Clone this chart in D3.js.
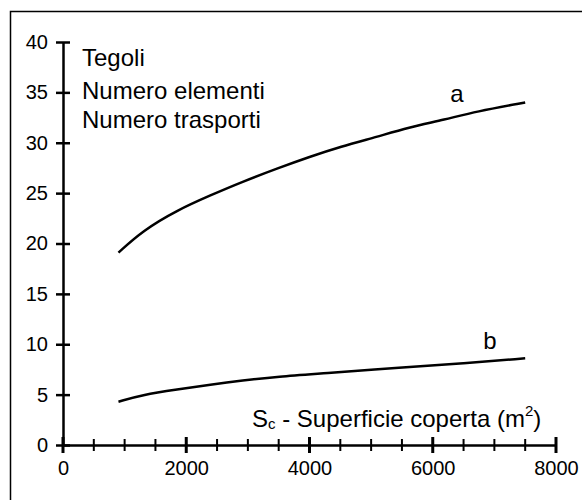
<!DOCTYPE html>
<html>
<head>
<meta charset="utf-8">
<script src="https://cdn.jsdelivr.net/npm/d3@7"></script>
<style>
body { margin: 0; background: #fff; }
svg text { font-family: Arial, "Liberation Sans", sans-serif; fill: #000; }
</style>
</head>
<body>
<div class="main"></div>
<script>
const w = 582, h = 500;

// data
const xA = [900, 1300, 1850, 2400, 2900, 3500, 4000, 4500, 5100, 5600, 6200, 6700, 7500],
yA = [19.1, 21.3, 23.3, 24.8, 26.1, 27.5, 28.6, 29.6, 30.6, 31.5, 32.3, 33.1, 34.0];
const xB = [900, 1300, 1850, 2400, 2900, 3500, 4200, 5500, 6500, 7500],
yB = [4.3, 5.0, 5.5, 6.0, 6.4, 6.8, 7.1, 7.7, 8.1, 8.6];
const xTicks = [0, 2000, 4000, 6000, 8000],
yTicks = [0, 5, 10, 15, 20, 25, 30, 35, 40];
const textLines = ['Tegoli', 'Numero elementi', 'Numero trasporti'];

const svg = d3.select('.main')
            .append('svg')
            .attr('width', w)
            .attr('height', h)

// frame (right and bottom sides fall outside the picture)
svg.append('rect')
    .attr('x', 10.5)
    .attr('y', 11.5)
    .attr('width', 700)
    .attr('height', 700)
    .attr('fill', 'none')
    .attr('stroke', '#000')
    .attr('stroke-width', 1.5)

const x = d3.scaleLinear().domain([0, 8000]).range([63, 556]),
y = d3.scaleLinear().domain([0, 40]).range([445, 42]);

// y axis
const yAxis = svg.append('g')
            .attr('transform', `translate(${x(0)},0)`)
            .call(d3.axisLeft(y).tickValues(yTicks).tickSize(0).tickPadding(15))
yAxis.select('.domain').attr('stroke-width', 2.5)
yAxis.selectAll('text').attr('font-size', 20).attr('font-family', 'Arial, "Liberation Sans", sans-serif')
yAxis.selectAll('.tick')
    .append('line')
    .attr('x1', -7).attr('x2', 7)
    .attr('stroke', '#000').attr('stroke-width', 2.5)

// x axis, minor ticks every 500
const xAxis = svg.append('g')
            .attr('transform', `translate(0,${y(0)})`)
            .call(d3.axisBottom(x).tickValues(xTicks).tickFormat(d3.format('d')).tickSize(0).tickPadding(16))
xAxis.select('.domain').attr('stroke-width', 2.5)
xAxis.selectAll('text').attr('font-size', 20).attr('font-family', 'Arial, "Liberation Sans", sans-serif')
xAxis.selectAll('.minor')
    .data(d3.range(0, 8001, 500))
    .enter()
    .append('line')
    .attr('x1', d => x(d)).attr('x2', d => x(d))
    .attr('y1', d => d % 2000 == 0 ? -8 : -6)
    .attr('y2', d => d % 2000 == 0 ? 8 : 6)
    .attr('stroke', '#000')
    .attr('stroke-width', d => d % 2000 == 0 ? 3 : 2)

const line = d3.line()
            .x(d => x(d[0]))
            .y(d => y(d[1]))
            .curve(d3.curveBasis)

svg.append('path')
    .datum(d3.zip(xA, yA))
    .attr('d', line)
    .attr('fill', 'none')
    .attr('stroke', '#000')
    .attr('stroke-width', 2.5)

svg.append('path')
    .datum(d3.zip(xB, yB))
    .attr('d', line)
    .attr('fill', 'none')
    .attr('stroke', '#000')
    .attr('stroke-width', 2.5)

// curve labels
svg.append('text').attr('x', 457).attr('y', 102).attr('text-anchor', 'middle').attr('font-size', 24).text('a')
svg.append('text').attr('x', 490).attr('y', 349).attr('text-anchor', 'middle').attr('font-size', 24).text('b')

svg.selectAll('.lbl')
    .data(textLines)
    .enter()
    .append('text')
    .attr('x', 82)
    .attr('y', (d, i) => [66, 99, 128][i])
    .attr('font-size', 24)
    .text(d => d)

// axis title
const title = svg.append('text')
            .attr('x', 252)
            .attr('y', 427)
            .attr('font-size', 24)
title.append('tspan').text('S')
title.append('tspan').attr('font-size', 15).attr('dy', 2).text('c')
title.append('tspan').attr('dy', -2).text(' - Superficie coperta (m')
title.append('tspan').attr('font-size', 15).attr('dy', -11).text('2')
title.append('tspan').attr('dy', 11).text(')')
</script>
</body>
</html>
